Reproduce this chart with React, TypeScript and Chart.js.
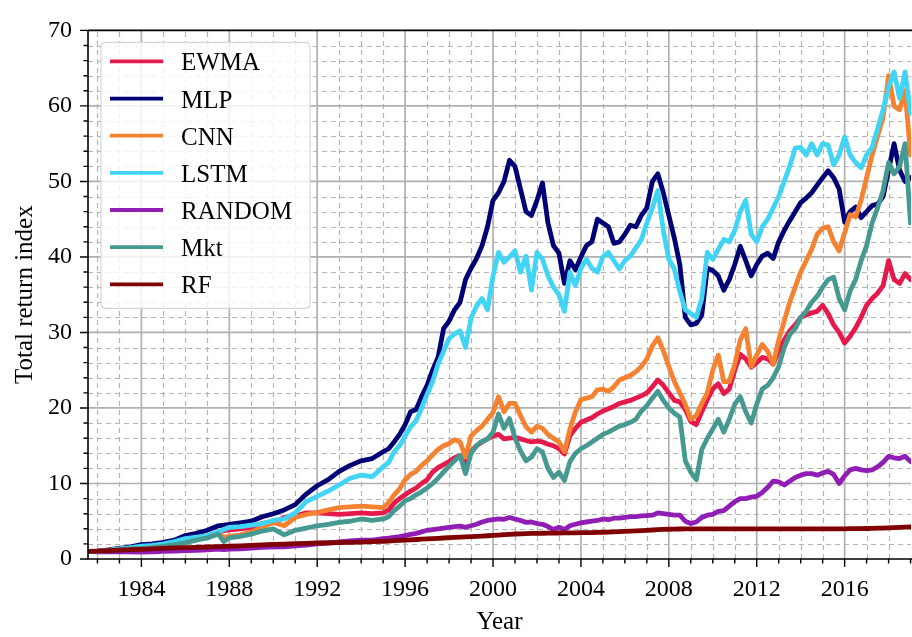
import React, { useEffect, useRef } from 'react';
import { Chart, registerables } from 'chart.js';

Chart.register(...registerables);

const FONT = '"Liberation Serif", "DejaVu Serif", serif';

const dates = [
  1981.57, 1982, 1982.5, 1983, 1983.5, 1984, 1984.5, 1985, 1985.5, 1986, 1986.5, 1987, 1987.5, 1987.75,
  1988, 1988.5, 1989, 1989.5, 1990, 1990.5, 1991, 1991.5, 1992, 1992.5, 1993, 1993.5, 1994, 1994.5, 1995,
  1995.25, 1995.5, 1995.75,
  1996, 1996.25, 1996.5, 1996.75, 1997, 1997.25, 1997.5, 1997.75, 1998, 1998.25, 1998.5, 1998.75,
  1999, 1999.25, 1999.5, 1999.75, 2000, 2000.25, 2000.5, 2000.75, 2001, 2001.25, 2001.5, 2001.75,
  2002, 2002.25, 2002.5, 2002.75, 2003, 2003.25, 2003.5, 2003.75, 2004, 2004.25, 2004.5, 2004.75,
  2005, 2005.25, 2005.5, 2005.75, 2006, 2006.25, 2006.5, 2006.75, 2007, 2007.25, 2007.5, 2007.75,
  2008, 2008.25, 2008.5, 2008.75, 2009, 2009.25, 2009.5, 2009.75, 2010, 2010.25, 2010.5, 2010.75,
  2011, 2011.25, 2011.5, 2011.75, 2012, 2012.25, 2012.5, 2012.75, 2013, 2013.25, 2013.5, 2013.75,
  2014, 2014.25, 2014.5, 2014.75, 2015, 2015.25, 2015.5, 2015.75, 2016, 2016.25, 2016.5, 2016.75,
  2017, 2017.25, 2017.5, 2017.75, 2018, 2018.25, 2018.5, 2018.75, 2019,
];

const ewma = [
  1.0, 1.0, 1.15, 1.3, 1.4, 1.5, 1.6, 1.8, 2.0, 2.3, 2.7, 3.0, 3.55, 3.75,
  3.85, 4.0, 4.2, 4.7, 4.8, 5.5, 5.7, 6.1, 6.1, 6.0, 5.9, 6.0, 6.1, 6.0, 6.1,
  6.5, 7.4, 8.0,
  8.5, 9.0, 9.4, 10.0, 10.5, 11.5, 12.1, 12.5, 12.9, 13.4, 13.7, 12.5,
  14.2, 15.0, 15.5, 15.9, 16.3, 16.5, 15.9, 16.0, 16.1, 15.9, 15.7, 15.5,
  15.6, 15.5, 15.2, 15.0, 14.6, 13.9, 16.3, 17.3, 18.1, 18.4, 18.7, 19.2,
  19.6, 19.9, 20.2, 20.6, 20.8, 21.0, 21.3, 21.6, 22.0, 22.8, 23.7, 23.0,
  22.0, 21.0, 20.8, 19.8, 18.2, 17.8, 19.5, 21.1, 22.5, 23.2, 21.9, 22.5,
  25.0, 27.1, 26.5, 25.4, 26.0, 26.7, 26.5, 25.8, 27.5, 29.0, 30.2, 31.0,
  32.0, 32.3, 32.6, 32.8, 33.6, 32.5, 31.0, 30.0, 28.6, 29.5, 30.6, 32.0,
  33.6, 34.5, 35.2, 36.2, 39.5, 37.0, 36.5, 37.8, 37.0,
];

const mlp = [
  1.0, 1.05, 1.2, 1.4, 1.6, 1.9, 2.0, 2.2, 2.5, 3.1, 3.4, 3.8, 4.4, 4.5,
  4.6, 4.8, 5.0, 5.6, 6.0, 6.5, 7.2, 8.6, 9.7, 10.5, 11.6, 12.4, 13.0, 13.3, 14.2,
  14.6, 15.5, 16.5,
  17.8, 19.5, 19.8, 21.5, 23.0, 25.0, 26.7, 30.5, 31.5, 33.0, 34.0, 37.0,
  38.5, 39.8, 41.5, 44.0, 47.5, 48.5, 50.0, 52.8, 52.0, 49.0, 46.0, 45.5,
  47.5, 49.8, 44.5, 41.5, 40.5, 36.5, 39.5, 38.3, 40.0, 41.5, 42.0, 45.0,
  44.5, 44.0, 41.8, 42.0, 43.0, 44.2, 44.0, 45.5, 46.5, 50.0, 51.0, 48.5,
  45.5, 42.5, 39.0, 32.0, 31.0, 31.2, 32.3, 38.5, 38.2, 37.5, 35.6, 37.0,
  39.0, 41.4, 39.5, 37.5, 39.0, 40.1, 40.5, 39.8, 42.0, 43.5, 44.8, 46.0,
  47.2, 47.8, 48.5, 49.5, 50.5, 51.4, 50.5, 49.0, 44.6, 46.0, 46.6, 45.2,
  46.0, 46.8, 47.0, 48.0, 51.5, 55.0, 51.5, 50.0, 50.5,
];

const cnn = [
  1.0, 1.0, 1.15, 1.3, 1.45, 1.55, 1.6, 1.8, 2.0, 2.25, 2.6, 2.9, 3.3, 2.9,
  3.0, 3.2, 3.55, 4.2, 4.85, 4.4, 5.5, 5.9, 6.15, 6.5, 6.8, 6.9, 7.0, 6.9, 6.8,
  7.5, 8.5, 9.3,
  10.5, 11.2, 11.6, 12.4, 13.0, 13.8, 14.5, 15.0, 15.3, 15.8, 15.5, 13.5,
  16.3, 17.0, 17.6, 18.5, 19.4, 21.5, 19.5, 20.6, 20.6, 19.0, 17.5, 16.8,
  17.6, 17.3, 16.5, 16.0, 15.5, 14.2, 17.2, 19.5, 21.1, 21.3, 21.5, 22.4,
  22.5, 22.2, 22.8, 23.7, 24.0, 24.3, 24.8, 25.5, 26.5, 28.2, 29.3, 27.6,
  25.5, 23.5, 22.0, 20.5, 18.5, 19.0, 20.6, 22.0, 25.0, 27.0, 23.5, 23.5,
  25.8, 29.0, 30.5, 25.5, 27.0, 28.4, 27.5, 25.8, 29.0, 31.5, 34.0, 36.0,
  38.0, 39.5, 41.0, 43.0, 43.8, 44.0, 42.0, 40.8, 43.2, 45.6, 45.3, 47.5,
  50.5, 53.5, 56.0, 58.5, 64.0, 60.0, 59.5, 62.0, 53.5,
];

const lstm = [
  1.0, 1.0, 1.1, 1.35, 1.5, 1.7, 1.8, 2.0, 2.3, 2.7, 2.9, 3.1, 3.6, 3.9,
  4.2, 4.3, 4.5, 4.7, 5.1, 5.3, 6.1, 7.6, 8.3, 9.0, 9.8, 10.7, 11.1, 10.9, 12.2,
  12.8, 14.2, 15.0,
  16.3, 17.5, 18.3, 20.0, 21.8, 23.5, 25.8, 27.5, 29.2, 29.8, 30.2, 28.0,
  31.9, 33.5, 34.5, 33.0, 37.5, 40.6, 39.3, 40.0, 40.8, 38.0, 40.1, 35.6,
  40.6, 39.7, 37.5, 36.0, 35.0, 32.8, 38.0, 36.2, 38.5, 39.7, 38.5, 38.0,
  40.0, 40.6, 39.5, 38.4, 39.5, 40.1, 41.2, 42.3, 44.5, 46.5, 48.8, 43.5,
  39.7, 38.4, 35.4, 33.0, 32.5, 32.0, 34.5, 40.6, 39.7, 41.0, 42.3, 42.0,
  43.5, 46.0, 47.5, 43.0, 42.0, 44.0, 45.0, 46.5, 48.0, 50.0, 52.0, 54.4,
  54.5, 53.5, 55.0, 53.5, 55.0, 54.8, 52.2, 53.5, 55.9, 53.5, 52.5, 51.8,
  53.5, 54.5, 57.0, 59.5, 62.5, 64.5, 61.0, 64.5, 59.0,
];

const random = [
  1.0, 0.95, 0.95, 0.95, 0.95, 0.9, 0.95, 1.0, 1.05, 1.1, 1.15, 1.2, 1.3, 1.25,
  1.3, 1.35, 1.45, 1.55, 1.6, 1.6, 1.75, 1.85, 2.0, 2.1, 2.25, 2.4, 2.5, 2.5, 2.7,
  2.75, 2.85, 2.95,
  3.1, 3.25, 3.4, 3.6, 3.8, 3.9, 4.0, 4.1, 4.2, 4.3, 4.35, 4.2,
  4.4, 4.6, 4.9, 5.1, 5.2, 5.3, 5.25, 5.5, 5.3, 5.1, 4.85, 4.9,
  4.7, 4.6, 4.3, 3.9, 4.2, 3.9, 4.4, 4.6, 4.8, 4.9, 5.0, 5.1,
  5.3, 5.2, 5.4, 5.4, 5.5, 5.6, 5.6, 5.7, 5.75, 5.8, 6.1, 6.0,
  5.9, 5.8, 5.8, 5.0, 4.7, 4.9, 5.5, 5.8, 5.9, 6.3, 6.4, 7.0,
  7.6, 8.0, 8.0, 8.2, 8.3, 8.8, 9.5, 10.3, 10.2, 9.8, 10.3, 10.8,
  11.1, 11.3, 11.3, 11.1, 11.4, 11.6, 11.2, 10.0, 11.0, 11.8, 12.0, 11.8,
  11.7, 11.8, 12.2, 12.8, 13.6, 13.4, 13.3, 13.6, 12.9,
];

const mkt = [
  1.0, 1.0, 1.1, 1.25, 1.35, 1.4, 1.5, 1.7, 1.9, 2.15, 2.5, 2.8, 3.3, 2.3,
  2.8, 3.0, 3.3, 3.7, 4.0, 3.2, 3.8, 4.1, 4.4, 4.6, 4.85, 5.0, 5.3, 5.1, 5.3,
  5.6, 6.4, 7.0,
  7.7, 8.0, 8.5, 8.9, 9.4, 10.0, 10.7, 11.5, 12.3, 13.0, 13.7, 11.3,
  14.0, 15.0, 15.6, 15.9, 16.8, 19.2, 17.3, 18.6, 16.0, 14.3, 13.0, 13.5,
  14.6, 14.2, 12.0, 10.8, 11.5, 10.4, 12.9, 14.0, 14.6, 15.0, 15.5, 16.0,
  16.5, 16.8, 17.2, 17.6, 17.8, 18.1, 18.5, 19.6, 20.3, 21.3, 22.2, 21.0,
  20.0, 19.3, 18.8, 13.0, 11.5, 10.5, 14.5, 16.0, 17.2, 18.5, 16.8, 18.5,
  20.5, 21.5, 19.5, 18.0, 20.5, 22.5, 23.0, 24.0, 25.5, 28.0, 29.7, 30.5,
  32.0, 32.8, 34.0, 34.8, 36.0, 37.0, 37.3, 34.5, 33.0, 35.5, 37.0, 39.5,
  41.5, 44.5, 46.5, 48.8, 52.5, 51.0, 52.0, 55.0, 44.5,
];

const rf = [
  1.0, 1.05, 1.12, 1.18, 1.23, 1.28, 1.35, 1.41, 1.46, 1.51, 1.55, 1.59, 1.64, 1.66,
  1.69, 1.74, 1.8, 1.87, 1.93, 1.98, 2.03, 2.08, 2.12, 2.15, 2.18, 2.21, 2.24, 2.29, 2.35,
  2.38, 2.42, 2.46,
  2.5, 2.54, 2.58, 2.62, 2.66, 2.7, 2.74, 2.78, 2.82, 2.86, 2.9, 2.94,
  2.97, 3.0, 3.04, 3.08, 3.12, 3.17, 3.22, 3.27, 3.31, 3.34, 3.37, 3.39,
  3.4, 3.41, 3.42, 3.43, 3.44, 3.45, 3.46, 3.47, 3.48, 3.49, 3.5, 3.52,
  3.54, 3.56, 3.59, 3.62, 3.65, 3.69, 3.73, 3.77, 3.8, 3.84, 3.88, 3.91,
  3.94, 3.96, 3.97, 3.98, 3.98, 3.98, 3.98, 3.98, 3.98, 3.98, 3.98, 3.98,
  3.98, 3.98, 3.98, 3.98, 3.98, 3.99, 3.99, 3.99, 3.99, 3.99, 3.99, 3.99,
  3.99, 3.99, 3.99, 3.99, 3.99, 3.99, 4.0, 4.0, 4.0, 4.01, 4.02, 4.03,
  4.04, 4.06, 4.08, 4.1, 4.13, 4.16, 4.19, 4.22, 4.25,
];

const seriesNames = ['EWMA', 'MLP', 'CNN', 'LSTM', 'RANDOM', 'Mkt', 'RF'];
const seriesValues = [ewma, mlp, cnn, lstm, random, mkt, rf];
const seriesColors = ['#e6194b', '#000075', '#f58231', '#42d4f4', '#911eb4', '#469990', '#800000'];

const X_MIN = 1981.57;
const X_MAX = 2019.02;
const Y_MIN = 0;
const Y_MAX = 70;
const xMinorStep = 1;
const xMajorStep = 4;
const yMinorStep = 2;
const yMajorStep = 10;

const gridPlugin = {
  id: 'mplGrid',
  beforeDatasetsDraw(chart: any) {
    const { ctx, chartArea: a, scales } = chart;
    const x = scales.x;
    const y = scales.y;
    ctx.save();
    ctx.beginPath();
    ctx.rect(a.left, a.top, a.right - a.left, a.bottom - a.top);
    ctx.clip();
    ctx.strokeStyle = '#b4b4b4';
    ctx.lineWidth = 1.2;
    ctx.setLineDash([5, 4]);
    for (let yr = Math.ceil(X_MIN); yr <= X_MAX; yr += xMinorStep) {
      if (yr % xMajorStep === 0) continue;
      const px = Math.round(x.getPixelForValue(yr)) + 0.5;
      ctx.beginPath();
      ctx.moveTo(px, a.bottom);
      ctx.lineTo(px, a.top);
      ctx.stroke();
    }
    for (let v = Y_MIN + yMinorStep; v < Y_MAX; v += yMinorStep) {
      if (v % yMajorStep === 0) continue;
      const py = Math.round(y.getPixelForValue(v)) + 0.5;
      ctx.beginPath();
      ctx.moveTo(a.left, py);
      ctx.lineTo(a.right, py);
      ctx.stroke();
    }
    ctx.setLineDash([]);
    ctx.strokeStyle = '#b0b0b0';
    ctx.lineWidth = 1.7;
    for (let yr = Math.ceil(X_MIN / xMajorStep) * xMajorStep; yr <= X_MAX; yr += xMajorStep) {
      const px = x.getPixelForValue(yr);
      ctx.beginPath();
      ctx.moveTo(px, a.bottom);
      ctx.lineTo(px, a.top);
      ctx.stroke();
    }
    for (let v = Y_MIN + yMajorStep; v < Y_MAX; v += yMajorStep) {
      const py = y.getPixelForValue(v);
      ctx.beginPath();
      ctx.moveTo(a.left, py);
      ctx.lineTo(a.right, py);
      ctx.stroke();
    }
    ctx.restore();
  },
};

const axesPlugin = {
  id: 'mplAxes',
  afterDatasetsDraw(chart: any) {
    const { ctx, chartArea: a, scales } = chart;
    const x = scales.x;
    const y = scales.y;
    ctx.save();
    ctx.strokeStyle = '#000';
    ctx.lineWidth = 1.6;
    ctx.lineCap = 'butt';
    ctx.beginPath();
    ctx.moveTo(a.left, a.top);
    ctx.lineTo(a.right + 2, a.top);
    ctx.moveTo(a.left, a.top);
    ctx.lineTo(a.left, a.bottom);
    ctx.lineTo(a.right + 2, a.bottom);
    ctx.stroke();
    ctx.lineWidth = 1.4;
    ctx.beginPath();
    for (let yr = Math.ceil(X_MIN); yr <= X_MAX; yr += xMinorStep) {
      const px = x.getPixelForValue(yr);
      const len = yr % xMajorStep === 0 ? 8 : 4.5;
      ctx.moveTo(px, a.bottom);
      ctx.lineTo(px, a.bottom + len);
    }
    for (let v = Y_MIN; v <= Y_MAX; v += yMinorStep) {
      const py = y.getPixelForValue(v);
      const len = v % yMajorStep === 0 ? 8 : 4.5;
      ctx.moveTo(a.left, py);
      ctx.lineTo(a.left - len, py);
    }
    ctx.stroke();
    ctx.restore();
  },
};

const legendPlugin = {
  id: 'mplLegend',
  afterDraw(chart: any) {
    const { ctx, chartArea: a } = chart;
    const bx = a.left + 13;
    const by = a.top + 12;
    const bw = 209;
    const bh = 266;
    const r = 5;
    ctx.save();
    ctx.beginPath();
    ctx.moveTo(bx + r, by);
    ctx.lineTo(bx + bw - r, by);
    ctx.quadraticCurveTo(bx + bw, by, bx + bw, by + r);
    ctx.lineTo(bx + bw, by + bh - r);
    ctx.quadraticCurveTo(bx + bw, by + bh, bx + bw - r, by + bh);
    ctx.lineTo(bx + r, by + bh);
    ctx.quadraticCurveTo(bx, by + bh, bx, by + bh - r);
    ctx.lineTo(bx, by + r);
    ctx.quadraticCurveTo(bx, by, bx + r, by);
    ctx.closePath();
    ctx.fillStyle = 'rgba(255,255,255,0.82)';
    ctx.fill();
    ctx.strokeStyle = '#d6d6d6';
    ctx.lineWidth = 1.2;
    ctx.stroke();
    const datasets = chart.data.datasets;
    ctx.font = `25px ${FONT}`;
    ctx.textAlign = 'left';
    ctx.textBaseline = 'alphabetic';
    datasets.forEach((ds: any, i: number) => {
      const ly = by + 19 + i * 37.15;
      ctx.strokeStyle = ds.borderColor;
      ctx.lineWidth = 3.8;
      ctx.lineCap = 'butt';
      ctx.beginPath();
      ctx.moveTo(bx + 9, ly);
      ctx.lineTo(bx + 62, ly);
      ctx.stroke();
      ctx.fillStyle = '#000';
      ctx.fillText(ds.label, bx + 80, ly + 9);
    });
    ctx.restore();
  },
};

export default function App() {
  const canvasRef = useRef<HTMLCanvasElement | null>(null);

  useEffect(() => {
    const canvas = canvasRef.current;
    if (!canvas) return;
    const datasets = seriesNames.map((name, i) => ({
      label: name,
      data: dates.map((d, j) => ({ x: d, y: seriesValues[i][j] })),
      borderColor: seriesColors[i],
      backgroundColor: seriesColors[i],
      borderWidth: 4.8,
      pointRadius: 0,
      tension: 0,
      fill: false,
      order: seriesNames.length - i,
      borderJoinStyle: 'round',
      borderCapStyle: 'round',
    }));
    const chart = new Chart(canvas, {
      type: 'line',
      data: { datasets } as any,
      options: {
        animation: false,
        responsive: false,
        devicePixelRatio: 1,
        layout: { padding: { top: 20, right: 1, left: 0, bottom: 0 } },
        plugins: {
          legend: { display: false },
          tooltip: { enabled: false },
        },
        scales: {
          x: {
            type: 'linear',
            min: X_MIN,
            max: X_MAX,
            grid: { display: false, drawTicks: false },
            border: { display: false },
            ticks: {
              stepSize: xMajorStep,
              includeBounds: false,
              autoSkip: false,
              maxRotation: 0,
              minRotation: 0,
              padding: 16,
              color: '#000',
              font: { family: FONT, size: 24 },
              callback: (v: any) => String(v),
            },
            title: {
              display: true,
              text: 'Year',
              color: '#000',
              font: { family: FONT, size: 25 },
              padding: { top: 0, bottom: 0 },
            },
            afterFit: (s: any) => {
              s.height = 78;
            },
          },
          y: {
            type: 'linear',
            min: Y_MIN,
            max: Y_MAX,
            grid: { display: false, drawTicks: false },
            border: { display: false },
            ticks: {
              stepSize: yMajorStep,
              padding: 16,
              color: '#000',
              font: { family: FONT, size: 24 },
            },
            title: {
              display: true,
              text: 'Total return index',
              color: '#000',
              font: { family: FONT, size: 25 },
              padding: { top: 10, bottom: 0 },
            },
            afterFit: (s: any) => {
              s.width = 88;
            },
          },
        },
      } as any,
      plugins: [gridPlugin, axesPlugin, legendPlugin],
    });
    return () => chart.destroy();
  }, []);

  return (
    <div style={{ position: 'absolute', left: 0, top: 0, width: 912, height: 637, background: '#fff' }}>
      <canvas ref={canvasRef} width={912} height={637} style={{ width: 912, height: 637 }} />
    </div>
  );
}
